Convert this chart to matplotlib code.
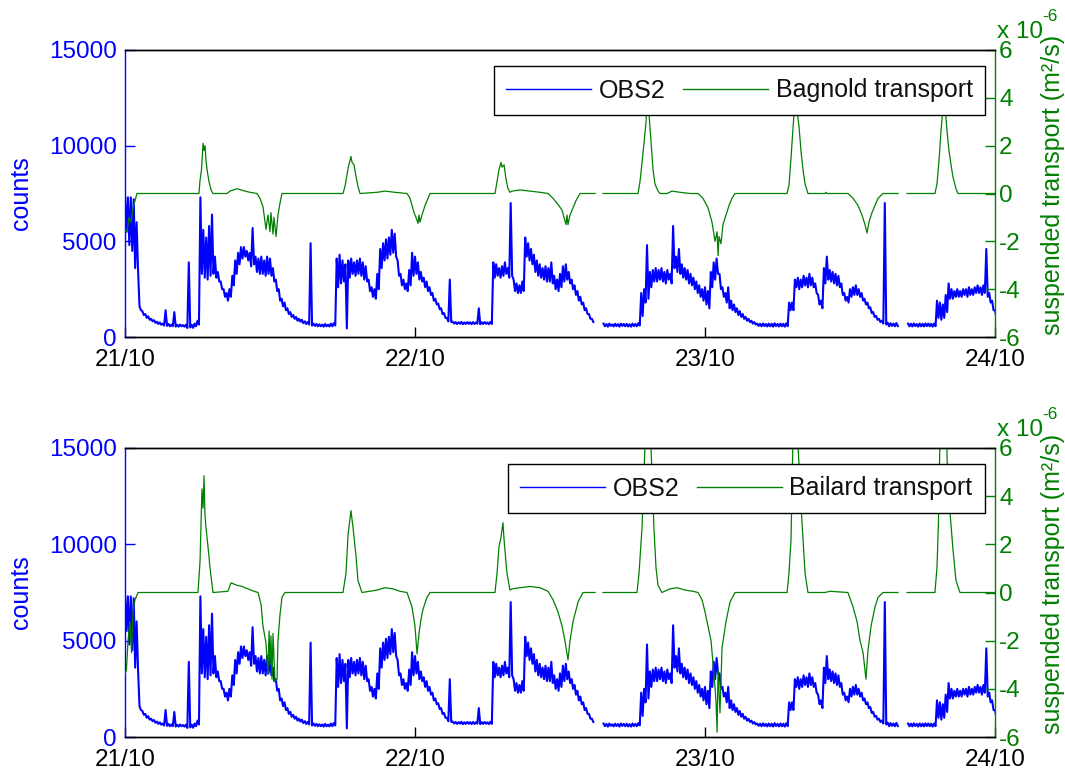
import numpy as np
import matplotlib
matplotlib.use("Agg")
import matplotlib.pyplot as plt

plt.rcParams["font.family"] = ["Liberation Sans", "DejaVu Sans"]
plt.rcParams["axes.unicode_minus"] = False

# OBS2 counts sampled every 0.01 day from 21/10 00:00.  Each sample keeps the
# upper and the lower value of the burst so the noise band survives.
obs2_high = [
    7400, 7300, 7300, 7200, 6000, 1600, 1350, 1200, 1080, 950,
    880, 800, 760, 700, 1400, 680, 650, 1300, 640, 650,
    620, 640, 3900, 640, 700, 850, 7300, 5600, 5200, 5800,
    6400, 4200, 3400, 2900, 2500, 2300, 2500, 3200, 4000, 4400,
    4700, 4700, 4500, 4400, 5700, 4200, 4100, 4200, 4000, 4200,
    4100, 3600, 3000, 2500, 2000, 1800, 1500, 1300, 1150, 1050,
    950, 900, 820, 780, 4900, 700, 680, 660, 650, 680,
    640, 700, 720, 4100, 4300, 4000, 3800, 4000, 4100, 3900,
    4000, 4100, 3900, 3700, 3000, 2600, 2500, 3300, 4600, 4900,
    5100, 5200, 5600, 5400, 4000, 3300, 3000, 2800, 3500, 4400,
    4200, 3900, 3400, 3100, 2900, 2600, 2300, 2000, 1750, 1500,
    1250, 1000, 3000, 800, 780, 770, 790, 760, 780, 770,
    780, 760, 1500, 770, 780, 760, 790, 3900, 3800, 3600,
    3700, 3900, 3600, 7000, 3000, 2800, 2700, 2900, 5200, 4900,
    4600, 4300, 4000, 3800, 3600, 3700, 3600, 3900, 3200, 3000,
    3300, 3700, 3800, 3400, 3000, 2700, 2400, 2100, 1800, 1500,
    1200, 950, np.nan, np.nan, np.nan, 700, 680, 700, 660, 690,
    670, 700, 680, 690, 660, 700, 680, 720, 2300, 2500,
    4800, 3400, 3500, 3600, 3500, 3600, 3400, 3500, 3300, 5800,
    4200, 4600, 3800, 3600, 3500, 3300, 3100, 2900, 2700, 2500,
    2600, 2400, 3400, 3900, 4100, 3300, 2600, 2300, 2600, 1900,
    1700, 1500, 1350, 1200, 1050, 950, 850, 780, 700, 690,
    710, 680, 700, 690, 720, 680, 700, 690, 710, 1800,
    1800, 3000, 3100, 3000, 3200, 3100, 3300, 3100, 2800, 2200,
    1900, 3600, 4200, 3500, 3400, 3300, 3200, 2800, 2300, 2100,
    2500, 2600, 2700, 2500, 2300, 2000, 1800, 1550, 1300, 1100,
    950, 850, 7000, 750, 720, 700, 730, np.nan, np.nan, np.nan,
    700, 690, 710, 680, 700, 690, 710, 700, 690, 700,
    1900, 1800, 1700, 2200, 2800, 2500, 2400, 2500, 2400, 2500,
    2500, 2600, 2500, 2600, 2700, 2600, 2700, 4600, 2300, 1900,
    1400,
]
obs2_low = [
    5500, 4800, 4500, 3600, 3500, 1400, 1150, 1000, 900, 820,
    740, 680, 640, 600, 580, 560, 560, 540, 540, 560,
    540, 470, 500, 480, 560, 650, 3300, 3100, 3000, 3200,
    3300, 3100, 2900, 2500, 2100, 1900, 2100, 2700, 3300, 3800,
    4100, 4200, 4000, 3700, 3800, 3400, 3300, 3300, 3200, 3300,
    3200, 2900, 2400, 1900, 1600, 1400, 1200, 1050, 950, 850,
    800, 720, 680, 650, 600, 580, 560, 560, 540, 560,
    550, 560, 600, 2600, 2800, 2900, 450, 3100, 3300, 3200,
    3300, 3200, 3000, 2900, 2400, 2100, 2000, 2500, 3600, 4000,
    4100, 4300, 4400, 4200, 3200, 2700, 2500, 2400, 2700, 3200,
    3300, 3000, 2900, 2600, 2400, 2200, 1900, 1700, 1450, 1200,
    1000, 820, 780, 700, 680, 690, 670, 680, 690, 670,
    680, 690, 670, 680, 690, 670, 680, 3100, 3200, 3100,
    3200, 3300, 3100, 3200, 2400, 2300, 2300, 2400, 4200, 4000,
    3800, 3400, 3200, 3100, 3000, 2900, 2900, 2800, 2500, 2400,
    2600, 2900, 3000, 2800, 2500, 2200, 1900, 1700, 1400, 1200,
    950, 780, np.nan, np.nan, np.nan, 560, 540, 580, 550, 570,
    540, 580, 560, 550, 540, 570, 560, 600, 1100, 1800,
    2000, 2600, 2900, 2900, 3000, 2900, 2800, 3000, 2800, 3600,
    3400, 3300, 3100, 3000, 2800, 2700, 2500, 2300, 2100, 1900,
    1700, 1500, 2600, 3000, 3300, 2500, 2100, 1800, 1500, 1400,
    1300, 1150, 1050, 950, 850, 780, 700, 650, 580, 560,
    570, 550, 560, 540, 570, 550, 560, 540, 560, 1400,
    1400, 2600, 2500, 2600, 2700, 2600, 2700, 2600, 2300, 1700,
    1500, 2800, 3000, 2900, 2800, 2700, 2600, 2200, 1900, 1800,
    2100, 2200, 2200, 2100, 1900, 1700, 1500, 1250, 1050, 900,
    780, 700, 650, 560, 580, 560, 570, np.nan, np.nan, np.nan,
    560, 550, 570, 540, 560, 550, 570, 560, 540, 560,
    1000, 900, 1000, 1300, 2000, 2000, 2100, 2100, 2100, 2200,
    2100, 2200, 2200, 2300, 2300, 2200, 2300, 2100, 1800, 1400,
    1000,
]
obs2_step_days = 0.01

# Transport vertices: (hours since 21/10 00:00, value in 1e-6 m^2/s)
bagnold = [
    (0.00, -1.5), (0.17, -1.6), (0.33, -1.0), (0.50, -1.2), (0.66, -0.6), (0.83, -0.3), (0.99, 0.0),
    (6.12, 0.0), (6.21, 0.55), (6.33, 1.0), (6.46, 2.1), (6.54, 1.8), (6.62, 2.0), (6.70, 1.4),
    (6.79, 1.0), (6.95, 0.5), (7.12, 0.15), (7.28, 0.0),
    (8.44, 0.0), (8.69, 0.1), (9.27, 0.2), (9.93, 0.1), (10.34, 0.05), (10.92, 0.0),
    (11.17, -0.2), (11.42, -0.55), (11.67, -1.5), (11.83, -0.9), (12.00, -1.6), (12.08, -0.8),
    (12.25, -1.7), (12.33, -1.0), (12.50, -1.8), (12.66, -0.9), (12.83, -0.4), (12.99, 0.0),
    (18.04, 0.0), (18.21, 0.3), (18.46, 1.05), (18.70, 1.55), (18.79, 1.3), (18.95, 1.2),
    (19.12, 0.7), (19.28, 0.3), (19.45, 0.0),
    (20.86, 0.05), (21.52, 0.1), (22.34, 0.05), (23.34, 0.0),
    (23.59, -0.2), (23.75, -0.5), (23.92, -0.8), (24.08, -1.0), (24.25, -1.25), (24.33, -0.9),
    (24.41, -1.2), (24.58, -0.9), (24.83, -0.5), (25.08, -0.2), (25.24, 0.0),
    (30.62, 0.0), (30.79, 0.5), (30.95, 1.0), (31.12, 1.3), (31.20, 1.1), (31.37, 1.2),
    (31.53, 0.6), (31.70, 0.2), (31.86, 0.05),
    (32.03, 0.1), (32.69, 0.15), (33.52, 0.1), (34.34, 0.05), (35.01, 0.0),
    (35.42, -0.2), (35.83, -0.45), (36.17, -0.7), (36.33, -1.0), (36.50, -1.3), (36.58, -0.9),
    (36.66, -1.3), (36.83, -0.9), (37.08, -0.6), (37.32, -0.3), (37.66, 0.0),
    (38.90, 0.0), (np.nan, np.nan), (39.56, 0.0),
    (42.46, 0.0), (42.62, 0.5), (42.79, 1.3), (42.95, 2.1), (43.12, 3.0), (43.20, 3.9),
    (43.37, 3.3), (43.53, 2.2), (43.70, 1.0), (43.86, 0.4), (44.11, 0.1), (44.28, 0.0),
    (44.86, 0.0), (45.27, 0.1), (45.93, 0.05), (46.76, 0.0),
    (47.42, 0.0), (47.83, -0.2), (48.25, -0.6), (48.58, -1.2), (48.83, -2.0), (49.00, -1.6),
    (49.08, -2.6), (49.16, -1.8), (49.32, -2.1), (49.49, -1.3), (49.74, -0.9), (49.99, -0.5),
    (50.23, -0.2), (50.48, 0.0),
    (54.79, 0.0), (54.95, 0.35), (55.12, 1.5), (55.28, 2.7), (55.45, 3.9), (55.61, 3.5),
    (55.78, 2.8), (55.94, 1.8), (56.11, 1.0), (56.28, 0.4), (56.52, 0.0),
    (57.93, 0.0), (58.01, 0.05), (58.09, 0.0),
    (59.83, 0.0), (60.25, -0.2), (60.66, -0.5), (60.99, -0.9), (61.24, -1.3), (61.41, -1.65),
    (61.57, -1.2), (61.82, -0.8), (62.07, -0.5), (62.32, -0.2), (62.73, 0.0),
    (63.97, 0.0), (np.nan, np.nan), (64.72, 0.0),
    (67.03, 0.0), (67.20, 0.4), (67.37, 1.4), (67.53, 2.6), (67.70, 3.6), (67.86, 3.7),
    (68.03, 2.6), (68.19, 1.8), (68.36, 1.2), (68.52, 0.7), (68.77, 0.2), (68.94, 0.0),
    (72.00, 0.0),
]
bailard = [
    (0.00, -3.4), (0.12, -3.2), (0.25, -2.0), (0.41, -1.2), (0.54, -2.5), (0.66, -0.8), (0.83, -0.3), (1.08, 0.0),
    (6.04, 0.0), (6.21, 1.3), (6.37, 4.3), (6.46, 3.5), (6.54, 4.85), (6.62, 3.2), (6.70, 2.7),
    (6.87, 1.9), (7.03, 1.05), (7.28, 0.0),
    (8.52, 0.05), (8.77, 0.4), (9.02, 0.35), (9.27, 0.3), (9.68, 0.25), (10.18, 0.15), (10.68, 0.05), (11.01, 0.0),
    (11.26, -0.5), (11.42, -1.4), (11.67, -2.1), (11.83, -3.4), (11.92, -1.6), (12.00, -3.0),
    (12.08, -1.8), (12.17, -3.6), (12.25, -1.7), (12.41, -3.7), (12.58, -3.6), (12.66, -2.0),
    (12.83, -0.9), (12.99, -0.2), (13.24, 0.0),
    (18.04, 0.0), (18.29, 0.8), (18.46, 2.4), (18.70, 3.4), (18.87, 2.7), (19.12, 1.5), (19.28, 0.5), (19.61, 0.0),
    (20.86, 0.1), (21.52, 0.2), (22.18, 0.15), (22.76, 0.05), (23.34, 0.0),
    (23.75, -0.6), (24.00, -1.4), (24.17, -2.55), (24.33, -1.7), (24.50, -1.1), (24.66, -0.7),
    (24.99, -0.2), (25.24, 0.0),
    (30.62, 0.0), (30.79, 0.8), (30.95, 1.9), (31.12, 2.3), (31.28, 2.9), (31.37, 2.2),
    (31.53, 1.3), (31.61, 0.8), (31.86, 0.1),
    (32.03, 0.15), (32.69, 0.2), (33.52, 0.25), (34.34, 0.2), (35.01, 0.05),
    (35.42, -0.3), (35.83, -0.8), (36.17, -1.4), (36.41, -2.0), (36.66, -2.8), (36.83, -2.0),
    (37.08, -1.2), (37.49, -0.4), (37.90, 0.0),
    (38.90, 0.0), (np.nan, np.nan), (39.56, 0.0),
    (42.37, 0.0), (42.54, 0.8), (42.79, 2.7), (42.95, 4.9), (43.12, 7.5), (43.28, 8.5),
    (43.45, 7.0), (43.61, 5.0), (43.78, 2.6), (43.95, 1.0), (44.11, 0.3), (44.44, 0.0),
    (45.10, 0.15), (45.68, 0.2), (46.34, 0.1), (47.01, 0.05),
    (47.42, 0.0), (47.75, -0.3), (48.00, -0.8), (48.25, -1.4), (48.50, -2.0), (48.74, -3.4),
    (48.91, -4.5), (49.00, -5.8), (49.08, -3.2), (49.24, -5.0), (49.41, -2.3), (49.74, -1.2),
    (50.07, -0.4), (50.48, 0.0),
    (54.79, 0.0), (54.95, 0.8), (55.12, 2.2), (55.28, 6.5), (55.45, 8.8), (55.61, 7.0),
    (55.86, 4.5), (56.03, 2.9), (56.28, 0.8), (56.52, 0.0),
    (57.93, 0.0), (58.34, 0.05),
    (59.83, 0.0), (60.25, -0.6), (60.58, -1.2), (60.83, -2.0), (61.08, -2.5), (61.32, -3.6),
    (61.49, -2.4), (61.74, -1.4), (62.07, -0.6), (62.32, -0.2), (62.73, 0.0),
    (63.97, 0.0), (np.nan, np.nan), (64.72, 0.0),
    (67.03, 0.0), (67.20, 1.05), (67.32, 2.9), (67.45, 6.5), (67.70, 8.5), (67.95, 7.5),
    (68.11, 4.0), (68.28, 3.3), (68.52, 1.8), (68.77, 0.5), (69.10, 0.0),
    (72.00, 0.0),
]

day_ticks = [0, 1, 2, 3]
day_labels = ["21/10", "22/10", "23/10", "24/10"]
count_ticks = [0, 5000, 10000, 15000]
transport_ticks = [-6, -4, -2, 0, 2, 4, 6]
transport_names = ["Bagnold transport", "Bailard transport"]

BLUE = "#0000ff"
GREEN = "#008000"
TICK_FS = 17.5
LABEL_FS = 18

# Interleave upper/lower burst values on a half-step grid
n_obs = len(obs2_high)
obs_t = np.empty(2 * n_obs)
obs_v = np.empty(2 * n_obs)
obs_t[0::2] = np.arange(n_obs) * obs2_step_days
obs_t[1::2] = np.arange(n_obs) * obs2_step_days + obs2_step_days / 2
obs_v[0::2] = obs2_high
obs_v[1::2] = obs2_low

fig = plt.figure(figsize=(10.65, 7.74), dpi=100)
W, H = 1065.0, 774.0


def draw_panel(top_px, bottom_px, series, name):
    rect = [125 / W, 1 - bottom_px / H, 870 / W, (bottom_px - top_px) / H]
    ax = fig.add_axes(rect)
    line_obs, = ax.plot(obs_t, obs_v, color=BLUE, lw=1.5)
    ax.set_xlim(0, 3)
    ax.set_ylim(0, 15000)
    ax.set_xticks(day_ticks)
    ax.set_xticklabels(day_labels)
    ax.set_yticks(count_ticks)
    ax.tick_params(axis="y", colors=BLUE, direction="in", length=7, width=1,
                   labelsize=TICK_FS, pad=6)
    ax.tick_params(axis="x", colors="black", direction="in", length=7, width=1,
                   labelsize=TICK_FS, pad=9)
    ax.spines["left"].set_color(BLUE)
    ax.spines["right"].set_visible(False)
    for s in ("top", "bottom"):
        ax.spines[s].set_color("black")
    for s in ax.spines.values():
        s.set_linewidth(1.0)
    ax.set_ylabel("counts", color=BLUE, fontsize=LABEL_FS)
    ax.yaxis.set_label_coords(-0.106, 0.5)

    ax2 = ax.twinx()
    hours = np.array([p[0] for p in series])
    vals = np.array([p[1] for p in series])
    line_tr, = ax2.plot(hours / 24.0, vals, color=GREEN, lw=0.9)
    ax2.set_xlim(0, 3)
    ax2.set_ylim(-6, 6)
    ax2.set_yticks(transport_ticks)
    ax2.tick_params(axis="y", colors=GREEN, direction="in", length=7, width=1,
                    labelsize=TICK_FS, pad=3)
    ax2.spines["right"].set_color(GREEN)
    ax2.spines["left"].set_visible(False)
    for s in ax2.spines.values():
        s.set_linewidth(1.0)
    ax2.set_ylabel("suspended transport (m\u00b2/s)", color=GREEN, fontsize=LABEL_FS)
    ax2.yaxis.set_label_coords(1.0525, 0.53)
    ax2.text(1.002, 1.042, "x 10", transform=ax2.transAxes, color=GREEN,
             fontsize=TICK_FS, ha="left", va="baseline")
    ax2.text(1.054, 1.100, "-6", transform=ax2.transAxes, color=GREEN,
             fontsize=12.5, ha="left", va="baseline")

    leg = ax2.legend([line_obs, line_tr], ["OBS2", name], ncol=2,
                     loc="upper right", bbox_to_anchor=(985 / W, 1 - (top_px + 16) / H),
                     bbox_transform=fig.transFigure, borderaxespad=0,
                     fontsize=LABEL_FS, frameon=True, fancybox=False,
                     framealpha=1, edgecolor="black", handlelength=3.4,
                     handletextpad=0.3, columnspacing=0.7, borderpad=0.5)
    leg.get_frame().set_linewidth(1.0)
    for h in leg.legend_handles:
        h.set_linewidth(1.0)
    for t in leg.get_texts():
        t.set_color("#111111")
    leg.set_zorder(10)
    return ax, ax2


draw_panel(50, 337, bagnold, transport_names[0])
draw_panel(448, 737, bailard, transport_names[1])

fig.savefig("out.png", dpi=100)
